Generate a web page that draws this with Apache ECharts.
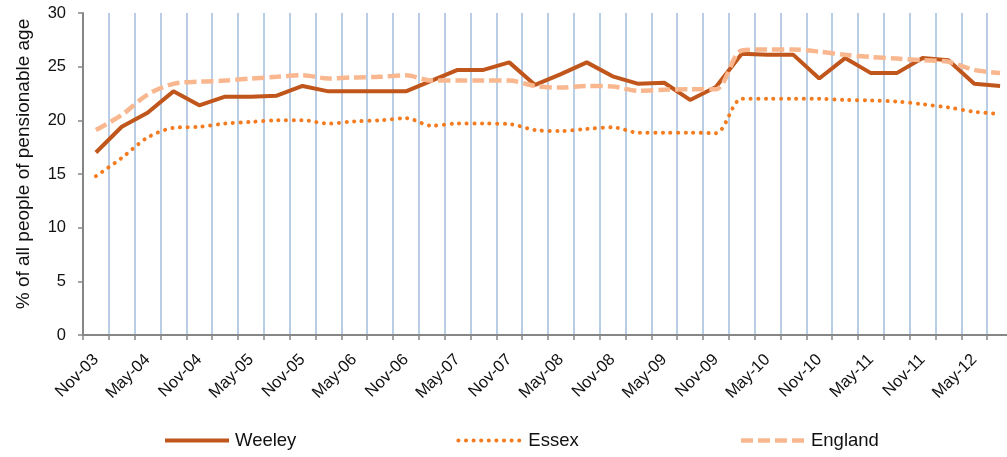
<!DOCTYPE html>
<html>
<head>
<meta charset="utf-8">
<script src="https://cdn.jsdelivr.net/npm/echarts@6/dist/echarts.min.js"></script>
<style>
  html, body { margin: 0; padding: 0; background: #fff; }
  #chart { width: 1007px; height: 457px; }
</style>
</head>
<body>
<div id="chart"></div>
<script>
  // quarterly points, Nov-03 .. Aug-12
  const quarters = ['Nov-03', 'Feb-04', 'May-04', 'Aug-04', 'Nov-04', 'Feb-05', 'May-05', 'Aug-05',
    'Nov-05', 'Feb-06', 'May-06', 'Aug-06', 'Nov-06', 'Feb-07', 'May-07', 'Aug-07',
    'Nov-07', 'Feb-08', 'May-08', 'Aug-08', 'Nov-08', 'Feb-09', 'May-09', 'Aug-09',
    'Nov-09', 'Feb-10', 'May-10', 'Aug-10', 'Nov-10', 'Feb-11', 'May-11', 'Aug-11',
    'Nov-11', 'Feb-12', 'May-12', 'Aug-12']

  const weeley = [17.0, 19.4, 20.7, 22.7, 21.4, 22.2, 22.2, 22.3, 23.2, 22.7, 22.7, 22.7,
    22.7, 23.7, 24.7, 24.7, 25.4, 23.3, 24.3, 25.4, 24.1, 23.4, 23.5, 21.9,
    23.1, 26.2, 26.1, 26.1, 23.9, 25.8, 24.4, 24.4, 25.8, 25.6, 23.4, 23.2]

  const essex = [14.8, 16.5, 18.4, 19.3, 19.4, 19.7, 19.85, 20.0, 20.0, 19.7, 19.9, 20.0,
    20.2, 19.5, 19.7, 19.7, 19.65, 19.1, 19.0, 19.2, 19.35, 18.85, 18.85, 18.85,
    18.8, 22.0, 22.0, 22.0, 22.0, 21.9, 21.85, 21.75, 21.5, 21.2, 20.8, 20.6]

  const england = [19.1, 20.5, 22.4, 23.4, 23.6, 23.7, 23.9, 24.05, 24.2, 23.9, 24.0, 24.05,
    24.2, 23.7, 23.7, 23.7, 23.7, 23.2, 23.05, 23.2, 23.15, 22.75, 22.85, 22.9,
    22.9, 26.5, 26.6, 26.6, 26.4, 26.1, 25.9, 25.75, 25.6, 25.45, 24.7, 24.4]

  const yTicks = [0, 5, 10, 15, 20, 25, 30]

  const font = 'Liberation Sans, Arial, sans-serif'
  const chart = echarts.init(document.getElementById('chart'))

  chart.setOption({
    animation: false,
    textStyle: { fontFamily: font, color: '#111' },
    // plot runs a little past the right edge, as in the original
    grid: { left: 83, top: 13, width: 930, height: 322, outerBoundsMode: 'none', containLabel: false },
    legend: {
      left: 163,
      top: 431,
      padding: 0,
      itemWidth: 64,
      itemHeight: 20,
      itemGap: 160,
      itemStyle: { opacity: 0 },
      textStyle: { fontSize: 18.5, color: '#111', fontFamily: font, padding: [0, 0, 0, 1] },
      data: [
        { name: 'Weeley', lineStyle: { width: 4 } },
        { name: 'Essex', lineStyle: { width: 4 } },
        { name: 'England', lineStyle: { width: 4.5 } }
      ]
    },
    xAxis: {
      type: 'category',
      data: quarters,
      boundaryGap: true,
      axisLine: { lineStyle: { color: '#868686', width: 2 } },
      axisTick: { show: true, length: 5, interval: 0, lineStyle: { color: '#868686', width: 1.5 } },
      axisLabel: { interval: 1, rotate: 45, fontSize: 16.5, color: '#111', margin: 22 },
      splitLine: { show: true, interval: 0, lineStyle: { color: '#b9cde5', width: 2 } }
    },
    yAxis: {
      type: 'value',
      min: yTicks[0],
      max: yTicks[yTicks.length - 1],
      interval: 5,
      name: '% of all people of pensionable age',
      nameLocation: 'middle',
      nameGap: 50,
      nameTextStyle: { fontSize: 19, color: '#111', padding: [0, 0, 0, 20] },
      axisLine: { show: true, lineStyle: { color: '#868686', width: 2 } },
      axisTick: { show: true, length: 5, lineStyle: { color: '#868686', width: 1.5 } },
      axisLabel: { fontSize: 16.5, color: '#111', margin: 17 },
      splitLine: { show: false }
    },
    series: [{
      name: 'Weeley',
      type: 'line',
      data: weeley,
      symbol: 'none',
      color: '#c0561b',
      lineStyle: { color: '#c0561b', width: 4 }
    }, {
      name: 'Essex',
      type: 'line',
      data: essex,
      symbol: 'none',
      smooth: 0.3,
      color: '#f47c20',
      lineStyle: { color: '#f47c20', width: 4, type: [0.1, 7.5], cap: 'round' }
    }, {
      name: 'England',
      type: 'line',
      data: england,
      symbol: 'none',
      smooth: 0.3,
      color: '#f9b78f',
      lineStyle: { color: '#f9b78f', width: 4.5, type: [12, 5] }
    }]
  })
</script>
</body>
</html>
